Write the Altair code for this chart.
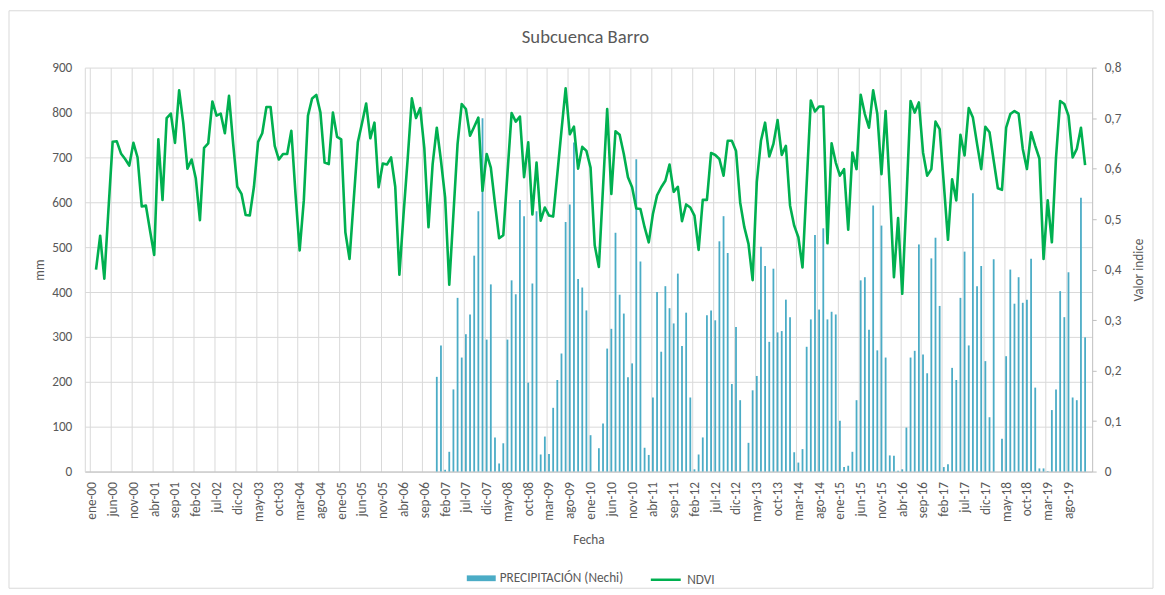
import altair as alt
import pandas as pd

# ---------------- data ----------------
TITLE = "Subcuenca Barro"
PRECIP_NAME = "PRECIPITACIÓN (Nechi)"
NDVI_NAME = "NDVI"

MONTH_ABBR = ["ene", "feb", "mar", "abr", "may", "jun", "jul", "ago", "sep", "oct", "nov", "dic"]
YEARS_2D = list(range(0, 20))  # 2000 .. 2019
N_MONTHS = 240

TICK_LABELS = [
    "ene-00", "jun-00", "nov-00", "abr-01", "sep-01", "feb-02", "jul-02", "dic-02",
    "may-03", "oct-03", "mar-04", "ago-04", "ene-05", "jun-05", "nov-05", "abr-06",
    "sep-06", "feb-07", "jul-07", "dic-07", "may-08", "oct-08", "mar-09", "ago-09",
    "ene-10", "jun-10", "nov-10", "abr-11", "sep-11", "feb-12", "jul-12", "dic-12",
    "may-13", "oct-13", "mar-14", "ago-14", "ene-15", "jun-15", "nov-15", "abr-16",
    "sep-16", "feb-17", "jul-17", "dic-17", "may-18", "oct-18", "mar-19", "ago-19",
]
TICK_STEP = 5

# NDVI, monthly from feb-00 (index 1) to dic-19
NDVI_START = 1
NDVI = [
    0.400, 0.467, 0.382, 0.52, 0.653, 0.654, 0.630, 0.619, 0.606, 0.651, 0.622,
    0.525, 0.527, 0.477, 0.429, 0.658, 0.538, 0.700, 0.709, 0.651, 0.755, 0.69, 0.600,
    0.618, 0.581, 0.498, 0.641, 0.650, 0.733, 0.705, 0.709, 0.670, 0.744, 0.649, 0.564,
    0.550, 0.508, 0.507, 0.564, 0.653, 0.670, 0.722, 0.722, 0.645, 0.618, 0.629, 0.629,
    0.675, 0.55, 0.438, 0.537, 0.705, 0.739, 0.746, 0.711, 0.612, 0.609, 0.711, 0.663,
    0.658, 0.474, 0.421, 0.537, 0.652, 0.69, 0.729, 0.660, 0.691, 0.563, 0.610, 0.608,
    0.622, 0.564, 0.390, 0.51, 0.62, 0.739, 0.700, 0.720, 0.64, 0.484, 0.609, 0.681,
    0.616, 0.543, 0.370, 0.51, 0.649, 0.728, 0.718, 0.665, 0.683, 0.701, 0.556, 0.629,
    0.602, 0.53, 0.462, 0.468, 0.59, 0.710, 0.693, 0.703, 0.583, 0.652, 0.509, 0.612,
    0.497, 0.523, 0.507, 0.505, 0.589, 0.675, 0.759, 0.668, 0.683, 0.600, 0.643, 0.635,
    0.602, 0.448, 0.405, 0.563, 0.718, 0.55, 0.674, 0.667, 0.629, 0.583, 0.563, 0.521,
    0.520, 0.484, 0.454, 0.510, 0.547, 0.563, 0.576, 0.608, 0.554, 0.564, 0.496, 0.529,
    0.523, 0.507, 0.439, 0.538, 0.538, 0.631, 0.627, 0.619, 0.586, 0.655, 0.655, 0.635,
    0.533, 0.484, 0.451, 0.379, 0.573, 0.655, 0.691, 0.624, 0.649, 0.696, 0.627, 0.645,
    0.527, 0.487, 0.464, 0.404, 0.57, 0.735, 0.713, 0.723, 0.723, 0.452, 0.650, 0.612,
    0.586, 0.599, 0.479, 0.632, 0.599, 0.746, 0.708, 0.681, 0.755, 0.708, 0.589, 0.714,
    0.56, 0.385, 0.502, 0.352, 0.537, 0.734, 0.711, 0.731, 0.632, 0.586, 0.599, 0.693,
    0.678, 0.57, 0.459, 0.579, 0.537, 0.667, 0.626, 0.720, 0.701, 0.649, 0.599, 0.683,
    0.672, 0.616, 0.561, 0.558, 0.681, 0.708, 0.714, 0.709, 0.639, 0.599, 0.672, 0.645,
    0.620, 0.421, 0.537, 0.454, 0.622, 0.734, 0.728, 0.705, 0.622, 0.639, 0.681, 0.607,
]

# Precipitation (mm), monthly from dic-06 (index 83) to dic-19
PRECIP_START = 83
PRECIP = [
    211,
    281, 4, 44, 183, 387, 254, 306, 350, 481, 580, 787, 294,
    417, 76, 18, 63, 294, 426, 395, 605, 569, 198, 419, 580,
    38, 78, 39, 142, 204, 263, 556, 595, 733, 429, 410, 359,
    81, 0, 52, 107, 274, 318, 532, 394, 352, 210, 241, 696,
    468, 53, 37, 165, 400, 267, 413, 364, 330, 441, 280, 354,
    165, 5, 38, 76, 348, 359, 337, 513, 569, 487, 195, 322,
    159, 0, 64, 181, 213, 501, 458, 289, 452, 310, 313, 383,
    344, 43, 20, 50, 278, 339, 527, 361, 542, 339, 356, 350,
    113, 10, 13, 44, 159, 426, 433, 316, 593, 270, 548, 254,
    36, 35, 2, 5, 98, 254, 269, 506, 261, 219, 475, 521,
    369, 10, 16, 231, 204, 387, 490, 281, 620, 413, 458, 246,
    121, 473, 0, 73, 257, 450, 374, 433, 376, 383, 474, 187,
    7, 7, 1, 137, 183, 402, 344, 444, 165, 159, 610, 299,
]

MM_TICKS = list(range(0, 901, 100))
NDVI_TICKS = [0, 0.1, 0.2, 0.3, 0.4, 0.5, 0.6, 0.7, 0.8]

# ---------------- styling ----------------
FONT = "Carlito, Calibri, Lato, sans-serif"
TXT = "#595959"
GRID = "#d9d9d9"
AXIS_LINE = "#bfbfbf"
BAR_BLUE = "#4BACC6"
LINE_GREEN = "#00B050"
FS = 13.3

MONTHS = [f"{m}-{y:02d}" for y in YEARS_2D for m in MONTH_ABBR]

bars_df = pd.DataFrame({
    "mes": MONTHS[PRECIP_START:PRECIP_START + len(PRECIP)],
    "pos": [i + 0.5 for i in range(PRECIP_START, PRECIP_START + len(PRECIP))],
    "mm": PRECIP,
    "serie": PRECIP_NAME,
})
ndvi_df = pd.DataFrame({
    "mes": MONTHS[NDVI_START:NDVI_START + len(NDVI)],
    "pos": [i + 0.5 for i in range(NDVI_START, NDVI_START + len(NDVI))],
    "ndvi": NDVI,
    "serie": NDVI_NAME,
})

label_expr = "[" + ",".join(f"'{t}'" for t in TICK_LABELS) + f"][round(datum.value/{TICK_STEP})]"

W, H = 1010, 405


def x_enc():
    return alt.X(
        "pos:Q",
        scale=alt.Scale(domain=[0, N_MONTHS], nice=False, zero=False),
        axis=alt.Axis(
            values=[TICK_STEP * k for k in range(len(TICK_LABELS))],
            labelExpr=label_expr,
            labelAngle=270, labelAlign="right", labelBaseline="middle",
            labelPadding=10, labelOffset=2, ticks=False,
            grid=True, gridColor=GRID, gridWidth=1,
            domainColor=AXIS_LINE, domainWidth=1,
            labelFont=FONT, labelFontSize=FS, labelColor=TXT,
            labelOverlap=False, labelFlush=False, labelBound=False,
            title="Fecha", titleFont=FONT, titleFontSize=FS, titleColor=TXT,
            titleFontWeight="normal", titleX=W / 2, titleY=68,
            titleAlign="center", titleBaseline="middle", titleAngle=0,
        ),
    )


bars = alt.Chart(bars_df).mark_bar(size=1.8).encode(
    x=x_enc(),
    y=alt.Y(
        "mm:Q",
        scale=alt.Scale(domain=[0, 900], nice=False),
        axis=alt.Axis(
            orient="left", values=MM_TICKS, ticks=False,
            grid=True, gridColor=GRID, gridWidth=1,
            domainColor=GRID, labelPadding=13,
            labelFont=FONT, labelFontSize=FS, labelColor=TXT,
            title="mm", titleFont=FONT, titleFontSize=FS, titleColor=TXT,
            titleFontWeight="normal", titleAngle=270, titleX=-45, titleY=H / 2,
            titleAlign="center", titleBaseline="middle",
        ),
    ),
    fill=alt.Fill(
        "serie:N",
        scale=alt.Scale(domain=[PRECIP_NAME], range=[BAR_BLUE]),
        legend=alt.Legend(
            orient="none", legendX=383, legendY=497.5, title=None, padding=0,
            symbolType="M-1,-0.2L1,-0.2L1,0.2L-1,0.2Z", symbolSize=841,
            symbolStrokeWidth=0,
            labelFont=FONT, labelFontSize=FS, labelColor=TXT, labelOffset=4,
        ),
    ),
)

line = alt.Chart(ndvi_df).mark_line(strokeWidth=2.6, strokeJoin="round").encode(
    x=x_enc(),
    y=alt.Y(
        "ndvi:Q",
        scale=alt.Scale(domain=[0, 0.8], nice=False),
        axis=alt.Axis(
            orient="right", values=NDVI_TICKS,
            labelExpr="datum.value == 0 ? '0' : replace(format(datum.value, '.1f'), '.', ',')",
            ticks=True, tickSize=4, tickColor=AXIS_LINE,
            grid=False, domainColor=AXIS_LINE, labelPadding=8,
            labelFont=FONT, labelFontSize=FS, labelColor=TXT,
            title="Valor indice", titleFont=FONT, titleFontSize=FS, titleColor=TXT,
            titleFontWeight="normal", titleAngle=270, titleX=46, titleY=H / 2,
            titleAlign="center", titleBaseline="middle",
        ),
    ),
    stroke=alt.Stroke(
        "serie:N",
        scale=alt.Scale(domain=[NDVI_NAME], range=[LINE_GREEN]),
        legend=alt.Legend(
            orient="none", legendX=566, legendY=497, title=None, padding=0,
            symbolType="stroke", symbolSize=900, symbolStrokeWidth=2.5,
            labelFont=FONT, labelFontSize=FS, labelColor=TXT, labelOffset=5,
        ),
    ),
)

border = alt.Chart(pd.DataFrame({"k": [0]})).mark_rect(
    fillOpacity=0, stroke=GRID, strokeWidth=1
).encode(
    x=alt.value(-76), x2=alt.value(1071), y=alt.value(-57), y2=alt.value(522)
)

chart = alt.layer(border, bars, line).resolve_scale(
    y="independent"
).properties(
    width=W,
    height=H,
    title=alt.TitleParams(
        TITLE, font=FONT, fontSize=18.7, color=TXT, fontWeight="normal",
        anchor="middle", frame="group", offset=18, dx=-3, dy=74, baseline="bottom",
    ),
    autosize=alt.AutoSizeParams(type="none"),
    padding={"left": 77, "top": 59, "right": 65, "bottom": 120},
    background="white",
).configure_view(stroke=None)

chart.save("out.html", embed_options={"renderer": "svg", "actions": False})
